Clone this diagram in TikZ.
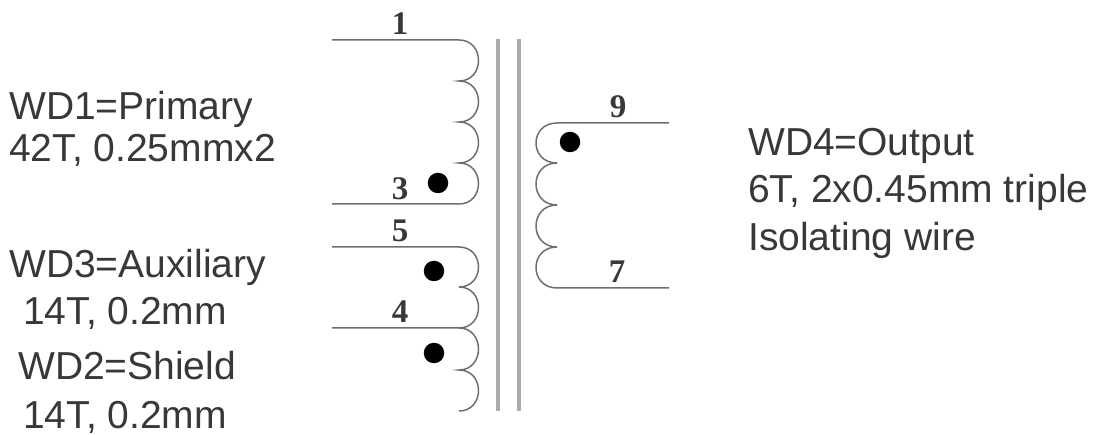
\documentclass[tikz,border=0pt]{standalone}
\usepackage{fontspec}
\setmainfont{Liberation Sans}
\newfontfamily\numfont{Liberation Serif}
\definecolor{wirec}{HTML}{6E6E6E}
\definecolor{corec}{HTML}{ABABAB}
\definecolor{textc}{HTML}{383838}
\tikzset{
  wire/.style={draw=wirec,line width=1.5pt},
  core/.style={draw=corec,line width=4pt},
  polarity/.style={circle,fill=black,draw=none,minimum size=20.5pt,inner sep=0pt},
  pin/.style={font=\numfont\fontsize{33}{33}\selectfont\bfseries,text=textc,inner sep=0pt,anchor=base},
  lbl/.style={font=\fontsize{39}{39}\selectfont,text=textc,inner sep=0pt,anchor=base west}
}
\newcommand{\bumpR}[2]{.. controls (485,#1) and (485,#2) .. (459,#2)}
\newcommand{\bumpL}[2]{.. controls (529,#1) and (529,#2) .. (557,#2)}
\begin{document}
\begin{tikzpicture}[x=1pt,y=-1pt]
\useasboundingbox (0,0) rectangle (1093,435);
% core
\draw[core] (498,39) -- (498,411);
\draw[core] (519,39) -- (519,411);
% WD1
\draw[wire] (332,40) -- (459,40) \bumpR{40}{81} \bumpR{81}{122} \bumpR{122}{163} \bumpR{163}{204} -- (332,204);
% WD3 and WD2
\draw[wire] (332,247) -- (459,247) \bumpR{247}{287} \bumpR{287}{328} -- (332,328);
\draw[wire] (459,328) \bumpR{328}{370} \bumpR{370}{411};
% WD4
\draw[wire] (669,123) -- (557,123) \bumpL{123}{163} \bumpL{163}{205} \bumpL{205}{247} \bumpL{247}{288} -- (669,288);
% dots
\node[polarity] (d1) at (438,183) {};
\node[polarity] (d2) at (434,271) {};
\node[polarity] (d3) at (434,353) {};
\node[polarity] (d4) at (570,142) {};
% pins
\node[pin] (p1) at (400,35) {1};
\node[pin] (p3) at (400,200) {3};
\node[pin] (p5) at (400,242) {5};
\node[pin] (p4) at (400,323) {4};
\node[pin] (p9) at (618,118) {9};
\node[pin] (p7) at (617,283) {7};
% labels
\node[lbl] (t1) at (9,120) {WD1=Primary};
\node[lbl] (t2) at (9,162) {42T, 0.25mmx2};
\node[lbl] (t3) at (9,278) {WD3=Auxiliary};
\node[lbl] (t4) at (23,325) {14T, 0.2mm};
\node[lbl] (t5) at (18,380) {WD2=Shield};
\node[lbl] (t6) at (23,429) {14T, 0.2mm};
\node[lbl] (t7) at (748,156) {WD4=Output};
\node[lbl] (t8) at (748,203) {6T, 2x0.45mm triple};
\node[lbl] (t9) at (748,251) {Isolating wire};
\end{tikzpicture}
\end{document}
